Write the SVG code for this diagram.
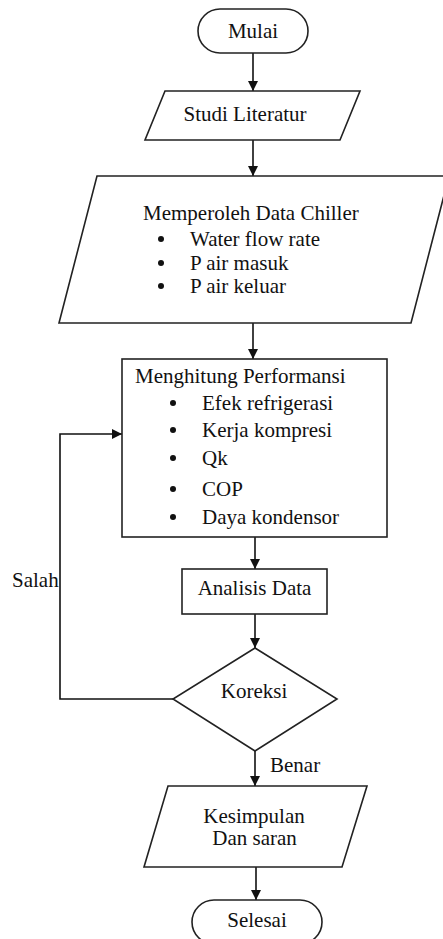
<svg xmlns="http://www.w3.org/2000/svg" width="443" height="939" viewBox="0 0 443 939" font-family="Liberation Serif, serif">
<style>
.shape{fill:#fff;stroke:#222;stroke-width:1.6}
.t{font-size:21px;fill:#111}
.c{text-anchor:middle}
.line{fill:none;stroke:#111;stroke-width:1.6}
.dot{fill:#111}
</style>
<defs>
<marker id="arr" markerUnits="userSpaceOnUse" markerWidth="10" markerHeight="12" refX="10" refY="5" orient="auto">
<path d="M0,0 L10,5 L0,10 Z" fill="#111"/>
</marker>
</defs>
<rect width="443" height="939" fill="#fff"/>
<g id="connectors">
<line class="line" x1="253" y1="53" x2="253" y2="91" marker-end="url(#arr)"/>
<line class="line" x1="253" y1="140" x2="253" y2="176" marker-end="url(#arr)"/>
<line class="line" x1="253" y1="323" x2="253" y2="359" marker-end="url(#arr)"/>
<line class="line" x1="255" y1="537" x2="255" y2="569" marker-end="url(#arr)"/>
<line class="line" x1="255" y1="614" x2="255" y2="648" marker-end="url(#arr)"/>
<line class="line" x1="255" y1="751" x2="255" y2="786" marker-end="url(#arr)"/>
<line class="line" x1="256" y1="867" x2="256" y2="900" marker-end="url(#arr)"/>
<polyline class="line" points="173,699 60,699 60,434 122,434" marker-end="url(#arr)"/>
<text class="t" x="12" y="587">Salah</text>
<text class="t" x="270" y="772">Benar</text>
</g>
<g id="mulai">
<rect class="shape" x="198" y="9" width="110" height="44" rx="22"/>
<text class="t c" x="253" y="38">Mulai</text>
</g>
<g id="studi">
<polygon class="shape" points="165,91 360,91 340,140 145,140"/>
<text class="t c" x="245" y="121">Studi Literatur</text>
</g>
<g id="memperoleh">
<polygon class="shape" points="97,176 449,176 411,323 59,323"/>
<text class="t" x="143" y="220">Memperoleh Data Chiller</text>
<circle class="dot" cx="161" cy="239" r="3"/>
<text class="t" x="190" y="246">Water flow rate</text>
<circle class="dot" cx="161" cy="263" r="3"/>
<text class="t" x="190" y="270">P air masuk</text>
<circle class="dot" cx="161" cy="286" r="3"/>
<text class="t" x="190" y="293">P air keluar</text>
</g>
<g id="menghitung">
<rect class="shape" x="122" y="359" width="265" height="178"/>
<text class="t" x="135" y="383">Menghitung Performansi</text>
<circle class="dot" cx="173" cy="403" r="3"/>
<text class="t" x="202" y="410">Efek refrigerasi</text>
<circle class="dot" cx="173" cy="430" r="3"/>
<text class="t" x="202" y="437">Kerja kompresi</text>
<circle class="dot" cx="173" cy="458" r="3"/>
<text class="t" x="202" y="465">Qk</text>
<circle class="dot" cx="173" cy="489" r="3"/>
<text class="t" x="202" y="496">COP</text>
<circle class="dot" cx="173" cy="517" r="3"/>
<text class="t" x="202" y="524">Daya kondensor</text>
</g>
<g id="analisis">
<rect class="shape" x="182" y="569" width="145" height="45"/>
<text class="t c" x="254.5" y="595">Analisis Data</text>
</g>
<g id="koreksi">
<polygon class="shape" points="255,648 337,699 255,751 173,699"/>
<text class="t c" x="254" y="698">Koreksi</text>
</g>
<g id="kesimpulan">
<polygon class="shape" points="168,786 367,786 342,867 144,867"/>
<text class="t c" x="254" y="823">Kesimpulan</text>
<text class="t c" x="254.5" y="845">Dan saran</text>
</g>
<g id="selesai">
<rect class="shape" x="192" y="900" width="130" height="44" rx="22"/>
<text class="t c" x="257" y="927">Selesai</text>
</g>
</svg>
